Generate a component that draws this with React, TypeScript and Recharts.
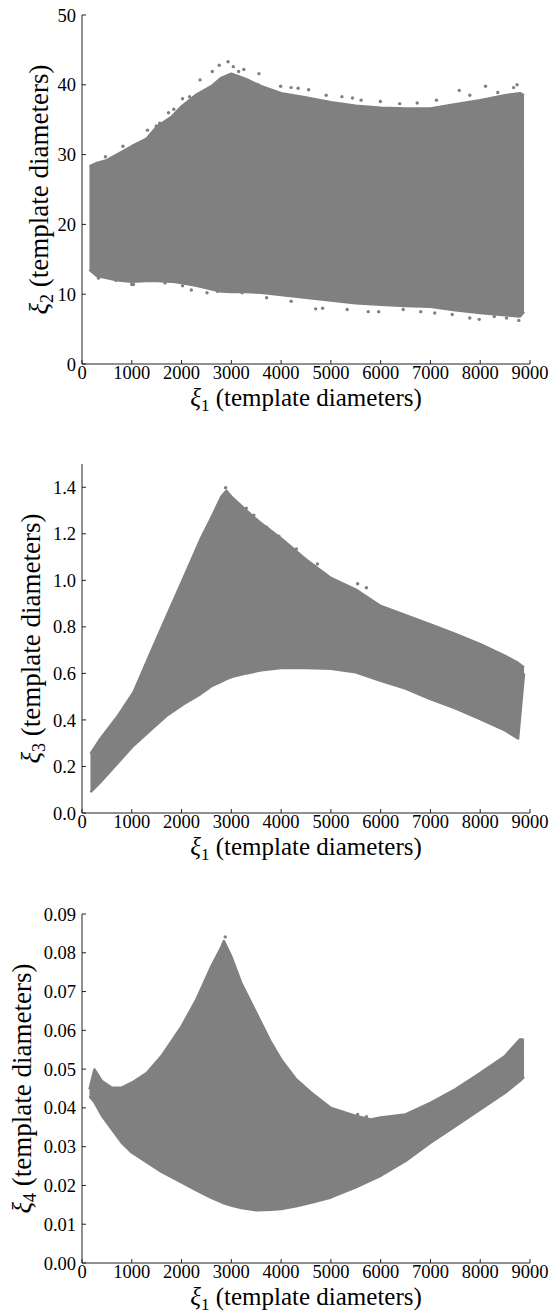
import React from 'react';
import { ComposedChart, Area, Scatter, XAxis, YAxis, Label } from 'recharts';

// ---------- shared axis data ----------
const xTicks = [0, 1000, 2000, 3000, 4000, 5000, 6000, 7000, 8000, 9000];
const xDomain = [0, 9000];

// ---------- panel 1 : xi2 vs xi1 ----------
const p1X = [150, 300, 500, 700, 1000, 1300, 1500, 1800, 2000, 2300, 2600, 2800, 3000, 3300, 3600, 4000, 4500, 5000, 5500, 6000, 6500, 7000, 7500, 8000, 8500, 8800, 8880];
const p1Upper = [28.3, 28.8, 29.2, 30.0, 31.2, 32.3, 34.0, 35.4, 36.9, 38.6, 39.8, 41.0, 41.6, 40.8, 39.8, 38.8, 38.2, 37.5, 37.0, 36.7, 36.6, 36.6, 37.2, 37.8, 38.5, 38.8, 38.5];
const p1Lower = [13.5, 12.6, 12.3, 12.0, 11.8, 11.9, 11.9, 11.8, 11.6, 11.2, 10.7, 10.4, 10.3, 10.3, 10.2, 9.9, 9.5, 9.1, 8.7, 8.5, 8.3, 8.2, 7.7, 7.3, 7.0, 6.8, 7.5];
const p1OutX = [2934, 3251, 3554, 2371, 1844, 1316, 3990, 4342, 5433, 7579, 8107, 8740, 2196, 2512, 4694, 5749, 7980, 8775, 7086, 1034,
  1738, 1562, 1492, 823, 471, 2160, 2020, 2618, 2758, 3040, 3146, 3533, 3779, 4201, 4553, 4905, 5222, 5608, 5995, 6383, 6734, 7121, 7790, 8353, 8670,
  331, 683, 999, 1668, 2020, 2723, 3216, 3709, 4201, 4834, 5327, 5960, 6453, 6805, 7438, 7790, 8283, 8529];
const p1OutY = [43.3, 42.2, 41.6, 40.7, 36.5, 33.5, 39.8, 39.5, 38.1, 39.2, 39.8, 40.0, 10.6, 10.2, 7.9, 7.5, 6.4, 6.25, 7.3, 11.4,
  36.0, 34.5, 34.1, 31.2, 29.7, 38.3, 38.0, 41.9, 42.8, 42.6, 41.9, 40.0, 38.8, 39.6, 39.3, 38.5, 38.3, 37.8, 37.6, 37.3, 37.4, 37.8, 38.5, 38.9, 39.6,
  12.3, 12.0, 11.4, 11.6, 11.2, 10.4, 10.2, 9.5, 9.0, 8.0, 7.8, 7.5, 7.8, 7.5, 7.1, 6.6, 6.8, 6.6];
const p1YTicks = [0, 10, 20, 30, 40, 50];

// ---------- panel 2 : xi3 vs xi1 ----------
const p2X = [170, 370, 700, 1036, 1400, 1700, 2040, 2380, 2600, 2800, 2900, 3000, 3300, 3600, 4000, 4500, 5000, 5500, 6000, 6500, 7000, 7500, 8000, 8500, 8760, 8880];
const p2Upper = [0.254, 0.319, 0.411, 0.519, 0.70, 0.846, 1.01, 1.176, 1.27, 1.36, 1.385, 1.36, 1.30, 1.245, 1.18, 1.09, 1.01, 0.96, 0.89, 0.85, 0.811, 0.77, 0.726, 0.675, 0.645, 0.625];
const p2Lower = [0.09, 0.133, 0.211, 0.29, 0.361, 0.418, 0.468, 0.511, 0.545, 0.565, 0.575, 0.584, 0.60, 0.613, 0.623, 0.623, 0.62, 0.605, 0.568, 0.535, 0.49, 0.45, 0.404, 0.355, 0.32, 0.60];
const p2OutX = [2885, 3955, 4307, 4729, 5538, 5714, 2808, 3709, 3300, 3450];
const p2OutY = [1.398, 1.19, 1.135, 1.07, 0.985, 0.968, 0.57, 1.228, 1.31, 1.28];
const p2YTicks = [0, 0.2, 0.4, 0.6, 0.8, 1.0, 1.2, 1.4];

// ---------- panel 3 : xi4 vs xi1 ----------
const p3X = [150, 250, 400, 600, 800, 1000, 1300, 1600, 2000, 2300, 2600, 2800, 2850, 3000, 3200, 3500, 3800, 4000, 4300, 4600, 5000, 5500, 5800, 6000, 6500, 7000, 7500, 8000, 8500, 8800, 8880];
const p3Upper = [0.0448, 0.0499, 0.0469, 0.0452, 0.0452, 0.0465, 0.049, 0.0534, 0.061, 0.068, 0.0765, 0.0815, 0.083, 0.079, 0.0722, 0.0645, 0.0568, 0.0525, 0.0474, 0.044, 0.040, 0.0379, 0.037, 0.0375, 0.0383, 0.0413, 0.0448, 0.049, 0.0534, 0.0577, 0.0575];
const p3Lower = [0.043, 0.0415, 0.038, 0.0345, 0.031, 0.0285, 0.026, 0.0235, 0.0208, 0.0187, 0.0168, 0.0157, 0.0154, 0.0148, 0.0142, 0.0136, 0.0137, 0.0139, 0.0146, 0.0155, 0.0169, 0.0195, 0.0213, 0.0225, 0.0263, 0.031, 0.0353, 0.0396, 0.0439, 0.047, 0.048];
const p3OutX = [2878, 3976, 4307, 5538, 5714, 3723];
const p3OutY = [0.0841, 0.0522, 0.0469, 0.0383, 0.0377, 0.057];
const p3YTicks = [0, 0.01, 0.02, 0.03, 0.04, 0.05, 0.06, 0.07, 0.08, 0.09];

const FONT = 'Liberation Serif, Times New Roman, serif';
const GRAY = '#808080';
const INK = '#222';

const buildRange = (xs: number[], lo: number[], hi: number[]) =>
  xs.map((x, i) => ({ x, range: [lo[i], hi[i]] }));
const buildPts = (xs: number[], ys: number[]) => xs.map((x, i) => ({ x, y: ys[i] }));

const XLabelContent = (props: any) => {
  const vb = props.viewBox || {};
  const cx = vb.x + vb.width / 2;
  const y = vb.y + 42;
  return (
    <text x={cx} y={y} textAnchor="middle" fontFamily={FONT} style={{ fontFamily: FONT }} fontSize={25} fill="#000">
      <tspan fontStyle="italic">ξ</tspan>
      <tspan fontSize={17} dy={5}>1</tspan>
      <tspan dy={-5}> (template diameters)</tspan>
    </text>
  );
};

const makeYLabel = (sub: string, baseX: number) => (props: any) => {
  const vb = props.viewBox || {};
  const x = vb.x + baseX;
  const y = vb.y + vb.height / 2;
  return (
    <text x={x} y={y} textAnchor="middle" fontFamily={FONT} style={{ fontFamily: FONT }} fontSize={27} fill="#000" transform={`rotate(-90, ${x}, ${y})`}>
      <tspan fontStyle="italic">ξ</tspan>
      <tspan fontSize={18} dy={5}>{sub}</tspan>
      <tspan dy={-5}> (template diameters)</tspan>
    </text>
  );
};

const tickStyle = { fontFamily: FONT, fontSize: 18.5, fill: '#000', style: { fontFamily: FONT } };
const lineStyle = { stroke: INK, strokeWidth: 1 };

const Dot = (p: any) => <circle cx={p.cx} cy={p.cy} r={1.7} fill={GRAY} />;

function Panel(props: {
  top: number;
  data: any[];
  outliers: any[];
  yDomain: number[];
  yTicks: number[];
  digits: number;
  sub: string;
  labelX: number;
}) {
  const { top, data, outliers, yDomain, yTicks, digits, sub, labelX } = props;
  return (
    <div style={{ position: 'absolute', left: 0, top }}>
      <ComposedChart width={549} height={440} data={data} margin={{ top: 15, right: 19, bottom: 16, left: 0 }}>
        <XAxis
          dataKey="x"
          type="number"
          domain={xDomain}
          ticks={xTicks}
          allowDataOverflow
          height={60}
          tickSize={-4}
          tickMargin={6}
          tick={tickStyle}
          tickLine={lineStyle}
          axisLine={lineStyle}
          interval={0}
        >
          <Label content={XLabelContent} />
        </XAxis>
        <XAxis
          xAxisId="top"
          orientation="top"
          type="number"
          domain={xDomain}
          ticks={xTicks}
          allowDataOverflow
          height={0}
          tickSize={-4}
          tick={false}
          tickLine={lineStyle}
          axisLine={lineStyle}
          interval={0}
        />
        <YAxis
          dataKey="y"
          type="number"
          domain={yDomain}
          ticks={yTicks}
          allowDataOverflow
          width={82}
          tickSize={-4}
          tickMargin={10}
          tick={tickStyle}
          tickLine={lineStyle}
          axisLine={lineStyle}
          interval={0}
          tickFormatter={(v: number) => v.toFixed(digits)}
        >
          <Label content={makeYLabel(sub, labelX)} />
        </YAxis>
        <YAxis
          yAxisId="right"
          orientation="right"
          type="number"
          domain={yDomain}
          ticks={yTicks}
          allowDataOverflow
          width={0}
          tickSize={-4}
          tick={false}
          tickLine={lineStyle}
          axisLine={lineStyle}
          interval={0}
        />
        <Area
          dataKey="range"
          type="linear"
          fill={GRAY}
          fillOpacity={1}
          stroke={GRAY}
          strokeWidth={2.5}
          strokeLinejoin="round"
          dot={false}
          activeDot={false}
          isAnimationActive={false}
        />
        <Scatter data={outliers} dataKey="y" shape={Dot} isAnimationActive={false} />
      </ComposedChart>
    </div>
  );
}

export default function App() {
  return (
    <div style={{ position: 'absolute', left: 0, top: 0, width: 549, height: 1313, background: '#fff', overflow: 'hidden' }}>
      <Panel
        top={0}
        data={buildRange(p1X, p1Lower, p1Upper)}
        outliers={buildPts(p1OutX, p1OutY)}
        yDomain={[0, 50]}
        yTicks={p1YTicks}
        digits={0}
        sub="2"
        labelX={48}
      />
      <Panel
        top={449}
        data={buildRange(p2X, p2Lower, p2Upper)}
        outliers={buildPts(p2OutX, p2OutY)}
        yDomain={[0, 1.5]}
        yTicks={p2YTicks}
        digits={1}
        sub="3"
        labelX={40}
      />
      <Panel
        top={899}
        data={buildRange(p3X, p3Lower, p3Upper)}
        outliers={buildPts(p3OutX, p3OutY)}
        yDomain={[0, 0.09]}
        yTicks={p3YTicks}
        digits={2}
        sub="4"
        labelX={31}
      />
    </div>
  );
}
